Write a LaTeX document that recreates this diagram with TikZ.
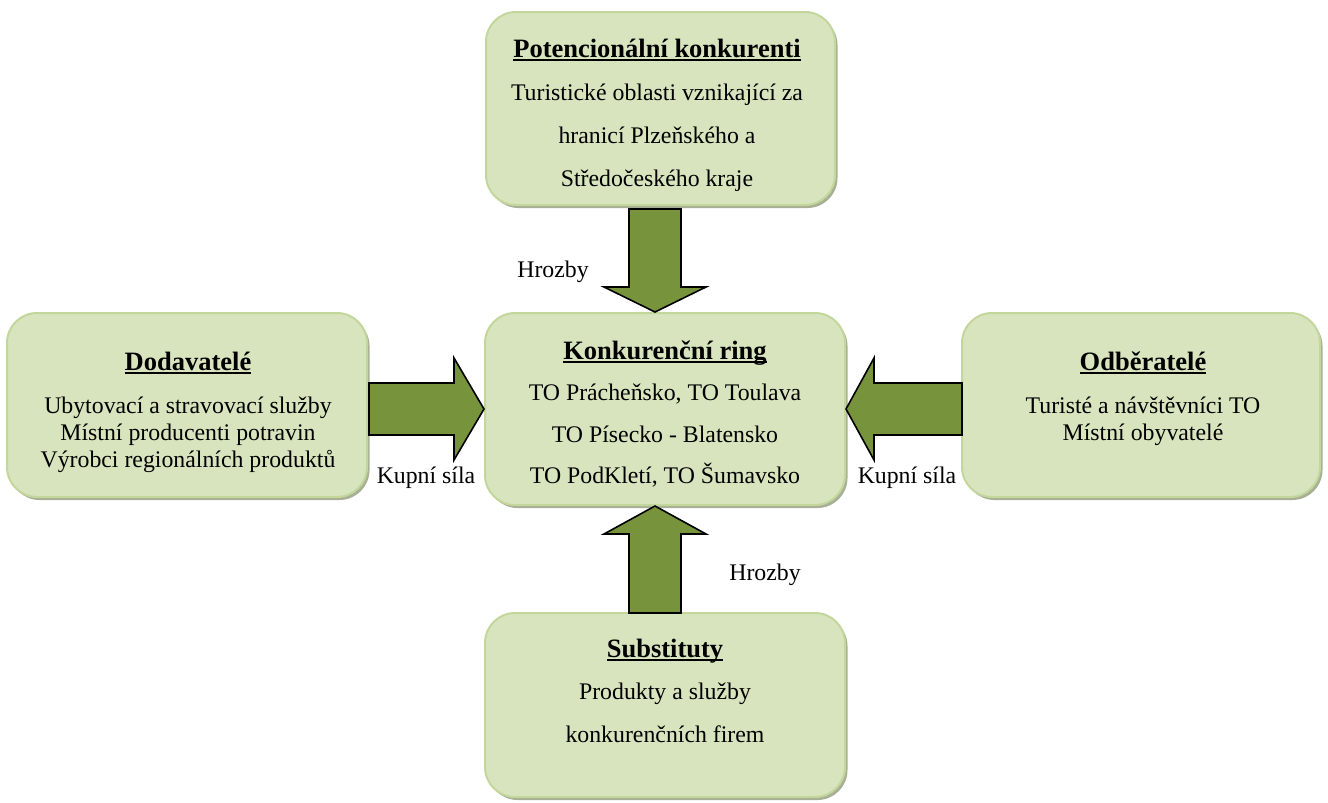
\documentclass[tikz,border=0pt]{standalone}
\usepackage{fontspec}
\setmainfont{Liberation Serif}
\usetikzlibrary{calc,shadows}
\definecolor{boxfill}{HTML}{D7E4BD}
\definecolor{boxline}{HTML}{C3D69B}
\definecolor{boxshadow}{HTML}{A7B095}
\definecolor{arrowfill}{HTML}{77933C}
\newsavebox{\ttlbox}
\newcommand{\ttl}[1]{\leavevmode\sbox{\ttlbox}{\fontsize{26.5}{30}\selectfont\textbf{#1}}\rlap{\rule[-3.8pt]{\wd\ttlbox}{1.9pt}}\usebox{\ttlbox}}
\newcommand{\fl}{\rule{0pt}{22pt}}
\tikzset{
  fbox/.style={draw=boxline, line width=2pt, fill=boxfill, rounded corners=30pt,
    general shadow={fill=boxshadow, shadow xshift=2.5pt, shadow yshift=-3pt}},
  btxt/.style={anchor=north, inner sep=0pt, align=center},
  lbl/.style={anchor=base, inner sep=0pt, font=\fontsize{23.8}{28}\selectfont},
  barrow/.style={draw=black, line width=1.6pt, fill=arrowfill, line join=miter}
}
\begin{document}
\begin{tikzpicture}[x=1pt,y=-1pt]
\useasboundingbox (0,0) rectangle (1328,803);
% boxes
\node[fbox, minimum width=349pt, minimum height=193pt] (top) at (660.5,108.5) {};
\node[fbox, minimum width=360pt, minimum height=192pt] (center) at (665,409) {};
\node[fbox, minimum width=360pt, minimum height=184pt] (left) at (187,405) {};
\node[fbox, minimum width=358pt, minimum height=184pt] (right) at (1141,405) {};
\node[fbox, minimum width=360pt, minimum height=184pt] (bottom) at (665,705) {};
% texts
\node[btxt, font=\fontsize{23.8}{43}\selectfont] (toptext) at (657,35)
  {\fl\ttl{Potencionální konkurenti}\\Turistické oblasti vznikající za\\hranicí Plzeňského a\\Středočeského kraje};
\node[btxt, font=\fontsize{23.8}{41.5}\selectfont] (centertext) at (665,337)
  {\fl\ttl{Konkurenční ring}\\TO Prácheňsko, TO Toulava\\TO Písecko - Blatensko\\TO PodKletí, TO Šumavsko};
\node[btxt, font=\fontsize{23.8}{27}\selectfont] (lefttext) at (188,348)
  {\fl\ttl{Dodavatelé}\\[16pt]Ubytovací a stravovací služby\\Místní producenti potravin\\Výrobci regionálních produktů};
\node[btxt, font=\fontsize{23.8}{27}\selectfont] (righttext) at (1143,348)
  {\fl\ttl{Odběratelé}\\[16pt]Turisté a návštěvníci TO\\Místní obyvatelé};
\node[btxt, font=\fontsize{23.8}{42.5}\selectfont] (bottomtext) at (665,635)
  {\fl\ttl{Substituty}\\Produkty a služby\\konkurenčních firem};
% arrows
\coordinate (ax) at (655,0);
\coordinate (ay) at (0,409);
\draw[barrow] ($(top.south -| ax)+(-26,3)$) -- ($(center.north -| ax)+(-26,-25)$) -- ++(-25,0)
  -- (center.north -| ax) -- ($(center.north -| ax)+(51,-25)$) -- ++(-25,0)
  -- ($(top.south -| ax)+(26,3)$) -- cycle;
\draw[barrow] ($(bottom.north -| ax)+(-26,1)$) -- ($(center.south -| ax)+(-26,28)$) -- ++(-25,0)
  -- (center.south -| ax) -- ($(center.south -| ax)+(51,28)$) -- ++(-25,0)
  -- ($(bottom.north -| ax)+(26,1)$) -- cycle;
\draw[barrow] ($(left.east |- ay)+(1,-26)$) -- ($(center.west |- ay)+(-30,-26)$) -- ++(0,-25)
  -- (center.west |- ay) -- ($(center.west |- ay)+(-30,51)$) -- ++(0,-25)
  -- ($(left.east |- ay)+(1,26)$) -- cycle;
\draw[barrow] ($(right.west |- ay)+(1,-26)$) -- ($(center.east |- ay)+(28,-26)$) -- ++(0,-25)
  -- (center.east |- ay) -- ($(center.east |- ay)+(28,51)$) -- ++(0,-25)
  -- ($(right.west |- ay)+(1,26)$) -- cycle;
% labels
\node[lbl] (hrozby1) at (553,277) {Hrozby};
\node[lbl] (hrozby2) at (765,580) {Hrozby};
\node[lbl] (kupni1) at (426,483) {Kupní síla};
\node[lbl] (kupni2) at (907,483) {Kupní síla};
\end{tikzpicture}
\end{document}
